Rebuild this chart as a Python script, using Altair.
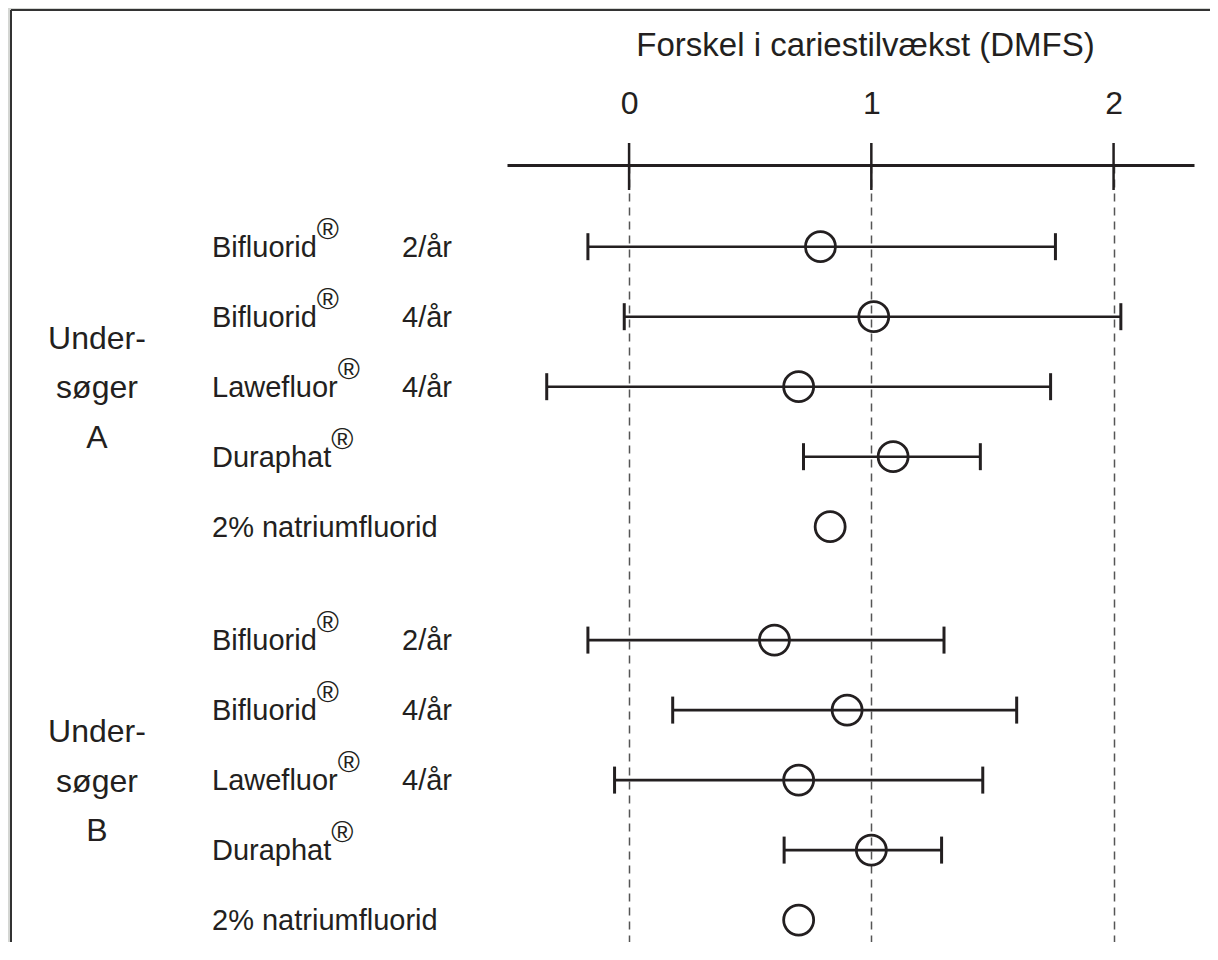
import altair as alt
import pandas as pd

# ---------------- data ----------------
groups = ["A"] * 5 + ["B"] * 5
brands = ["Bifluorid", "Bifluorid", "Lawefluor", "Duraphat", "2% natriumfluorid"] * 2
freqs = ["2/år", "4/år", "4/år", "", ""] * 2
registered = [True, True, True, True, False] * 2
estimate = [0.79, 1.01, 0.70, 1.09, 0.83, 0.60, 0.90, 0.70, 1.00, 0.70]
lower = [-0.17, -0.02, -0.34, 0.72, None, -0.17, 0.18, -0.06, 0.64, None]
upper = [1.76, 2.03, 1.74, 1.45, None, 1.30, 1.60, 1.46, 1.29, None]
group_names = ["A", "B"]
group_text = ["Under-\nsøger\nA", "Under-\nsøger\nB"]
x_ticks = [0, 1, 2]
x_title = "Forskel i cariestilvækst (DMFS)"

# ---------------- layout ----------------
FONT = "Liberation Sans"
INK = "#231f20"
PAD_L, PAD_T, PAD_R = 499, 157, 16
W, H = 687, 777
ROW_STEP = 70
GROUP_GAP = 0.62
Y0 = -1.167
X_DOMAIN = [-0.504, 2.332]
Y_DOMAIN = [Y0, Y0 + H / ROW_STEP]
LABEL_FS = 29
REG_FS = 30
GROUP_FS = 32

# approximate Liberation Sans advance widths (per 1000 em)
ADV = {"B": 667, "i": 222, "f": 278, "l": 222, "u": 556, "o": 556, "r": 333,
       "d": 556, "L": 556, "a": 556, "w": 722, "e": 556, "D": 722, "p": 556,
       "h": 556, "t": 278}


def text_width(s, size):
    return sum(ADV.get(c, 556) for c in s) * size / 1000.0


slots = [(i % 5) + (i // 5) * (5 + GROUP_GAP) for i in range(10)]
df = pd.DataFrame({"group": groups, "brand": brands, "freq": freqs,
                   "reg": registered, "est": estimate, "lo": lower,
                   "hi": upper, "slot": slots})
gdf = pd.DataFrame({"group": group_names, "text": group_text,
                    "slot": [slots[2], slots[7]]})
tdf = pd.DataFrame({"v": x_ticks})

xscale = alt.Scale(domain=X_DOMAIN, nice=False, zero=False)
yscale = alt.Scale(domain=Y_DOMAIN, nice=False, zero=False, reverse=True)

xaxis = alt.Axis(orient="top", values=x_ticks, format="d", grid=True,
                 gridDash=[8, 6], gridColor="#555555", gridWidth=1.5,
                 ticks=False, tickSize=0, domain=True, domainColor=INK,
                 domainWidth=3, labelFont=FONT, labelFontSize=32,
                 labelColor=INK, labelPadding=45, labelAngle=0,
                 labelFlush=False, title=x_title, titleFont=FONT,
                 titleFontSize=33, titleFontWeight="normal", titleColor=INK,
                 titleX=358, titleY=-110, titleBaseline="alphabetic",
                 titleAlign="center")


def X(field):
    return alt.X(field, type="quantitative", scale=xscale, axis=xaxis)


Y = alt.Y("slot:Q", scale=yscale, axis=None)

one = pd.DataFrame({"k": [0]})
gray_top = alt.Chart(one).mark_rect(fill="#d4d6d3").encode(
    x=alt.value(-PAD_L), x2=alt.value(W + PAD_R),
    y=alt.value(-PAD_T), y2=alt.value(-155))
gray_left = alt.Chart(one).mark_rect(fill="#d4d6d3").encode(
    x=alt.value(-PAD_L), x2=alt.value(-496),
    y=alt.value(-PAD_T), y2=alt.value(H))
border_top = alt.Chart(one).mark_rule(color="#333333", strokeWidth=2).encode(
    x=alt.value(-496), x2=alt.value(W + PAD_R), y=alt.value(-155))
border_left = alt.Chart(one).mark_rule(color="#333333", strokeWidth=2).encode(
    x=alt.value(-496), y=alt.value(-155), y2=alt.value(H))

ticks = alt.Chart(tdf).mark_rule(color=INK, strokeWidth=2.5).encode(
    x=X("v"), y=alt.value(-22), y2=alt.value(25))

bars = alt.Chart(df).transform_filter("isValid(datum.lo)")
err = bars.mark_rule(color=INK, strokeWidth=2.6).encode(
    x=X("lo"), x2="hi:Q", y=Y)
cap_lo = bars.mark_tick(color=INK, orient="vertical", size=27, thickness=3,
                        opacity=1).encode(x=X("lo"), y=Y)
cap_hi = bars.mark_tick(color=INK, orient="vertical", size=27, thickness=3,
                        opacity=1).encode(x=X("hi"), y=Y)
points = alt.Chart(df).mark_point(shape="circle", filled=False, size=900,
                                  strokeWidth=2.8, color=INK,
                                  opacity=1).encode(x=X("est"), y=Y)

brand_txt = alt.Chart(df).mark_text(
    align="left", baseline="alphabetic", dy=10, font=FONT,
    fontSize=LABEL_FS, color=INK).encode(
    x=alt.value(-295), y=Y, text="brand:N")
freq_txt = alt.Chart(df).mark_text(
    align="left", baseline="alphabetic", dy=10, font=FONT,
    fontSize=LABEL_FS, color=INK).encode(
    x=alt.value(-105), y=Y, text="freq:N")

reg_layers = []
for b in ["Bifluorid", "Lawefluor", "Duraphat"]:
    reg_layers.append(
        alt.Chart(df).transform_filter(
            (alt.datum.brand == b) & (alt.datum.reg == True)
        ).mark_text(align="left", baseline="alphabetic",
                    dx=text_width(b, LABEL_FS), dy=-8, font=FONT,
                    fontSize=REG_FS, color=INK).encode(
            x=alt.value(-295), y=Y, text=alt.value("®")))

group_txt = alt.Chart(gdf).mark_text(
    align="center", baseline="alphabetic", dy=-38, lineBreak="\n",
    lineHeight=49.5, font=FONT, fontSize=GROUP_FS, color=INK).encode(
    x=alt.value(-410), y=Y, text="text:N")

chart = alt.layer(
    gray_top, gray_left, border_top, border_left, ticks, err, cap_lo,
    cap_hi, points, brand_txt, freq_txt, *reg_layers, group_txt
).properties(
    width=W, height=H,
    padding={"left": PAD_L, "top": PAD_T, "right": PAD_R, "bottom": 0},
    autosize=alt.AutoSizeParams(type="none"),
).configure(background="white", view=alt.ViewConfig(stroke=None))

chart.save("out.html", embed_options={"renderer": "svg", "actions": False})
